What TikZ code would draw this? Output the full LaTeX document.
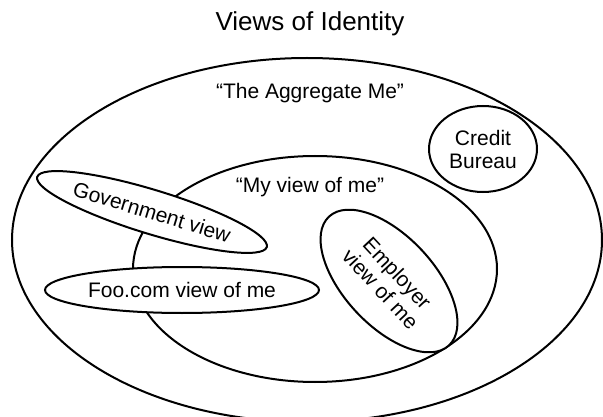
\documentclass[tikz,border=0pt]{standalone}
\usepackage{fontspec}
\setmainfont{Liberation Sans}
\usetikzlibrary{shapes.geometric}
\begin{document}
\begin{tikzpicture}[x=1pt,y=-1pt,
  blob/.style={ellipse,draw,line width=2pt,inner sep=0pt,fill=white,
    font=\fontsize{21}{23}\selectfont,align=center},
  lbl/.style={inner sep=0pt,font=\fontsize{21}{23}\selectfont,align=center}]
\useasboundingbox (0,0) rectangle (603,417);
\node[lbl,font=\fontsize{26}{28}\selectfont] (title) at (310,24) {Views of Identity};
\node[blob,minimum width=590pt,minimum height=364pt] (agg) at (307,240) {};
\node[lbl] (aggl) at (310,93) {“The Aggregate Me”};
\node[blob,minimum width=364pt,minimum height=226pt] (mine) at (315,269) {};
\node[lbl] (minel) at (310,187) {“My view of me”};
\node[blob,minimum width=108pt,minimum height=86pt] (credit) at (483,149) {Credit\\Bureau};
\node[blob,minimum width=176pt,minimum height=90pt,rotate=-47] (emp) at (389,281) {Employer\\view of me};
\node[blob,minimum width=240pt,minimum height=44pt,rotate=-17] (gov) at (152,212) {Government view};
\node[blob,minimum width=274pt,minimum height=46pt] (foo) at (182,290) {Foo.com view of me};
\end{tikzpicture}
\end{document}
